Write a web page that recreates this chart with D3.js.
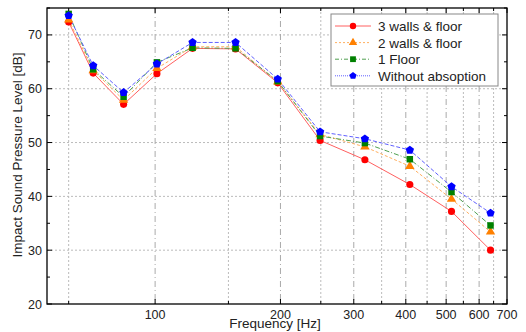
<!DOCTYPE html>
<html>
<head>
<meta charset="utf-8">
<script src="https://cdn.jsdelivr.net/npm/d3@7"></script>
<style>
  body { margin: 0; background: #fff; }
  text { font-family: "Liberation Sans", Arial, sans-serif; }
</style>
</head>
<body>
<div id="graph"></div>
<script>
// frequencies (Hz)
var freq = [62, 71, 84, 101, 123, 156, 197, 249, 319, 409, 515, 639];
var walls3 = [72.4, 62.9, 57.1, 62.8, 67.5, 67.4, 61.1, 50.4, 46.8, 42.2, 37.2, 30.0];
var walls2 = [72.8, 63.4, 57.9, 63.8, 67.8, 67.8, 61.3, 51.5, 49.2, 45.6, 39.5, 33.4];
var floor1 = [73.9, 63.6, 58.5, 64.9, 67.6, 67.5, 61.4, 51.2, 49.9, 46.9, 40.8, 34.6];
var noAbs  = [73.6, 64.3, 59.3, 64.6, 68.6, 68.6, 61.8, 52.0, 50.7, 48.6, 41.8, 36.9];

var seriesNames = ["3 walls & floor", "2 walls & floor", "1 Floor", "Without absoption"];
var xMajor = [100, 200, 300, 400, 500, 600, 700];
var xMinor = [62, 150, 250, 350, 450, 550, 650];
var yMajor = [20, 30, 40, 50, 60, 70];
var yMinor = [25, 35, 45, 55, 65, 75];

var W = 526, H = 332;
var pLeft = 47, pRight = 507, pTop = 8, pBottom = 304;

var svg = d3.select("#graph").append("svg").attr("width", W).attr("height", H);

var x = d3.scaleLog().domain([55, 700]).range([pLeft, pRight]);
var y = d3.scaleLinear().domain([20, 75]).range([pBottom, pTop]);

// grid
var grid = svg.append("g");
grid.selectAll("line.hg").data(yMajor.filter(function(d){ return d > 20; })).enter().append("line")
    .attr("x1", pLeft).attr("x2", pRight)
    .attr("y1", function(d){ return y(d); }).attr("y2", function(d){ return y(d); })
    .style("stroke", "#bbb").style("stroke-width", 1).style("stroke-dasharray", "2,2");
grid.selectAll("line.vmin").data(xMinor).enter().append("line")
    .attr("x1", function(d){ return x(d); }).attr("x2", function(d){ return x(d); })
    .attr("y1", pTop).attr("y2", pBottom)
    .style("stroke", "#bbb").style("stroke-width", 1).style("stroke-dasharray", "2,2");
grid.selectAll("line.vmaj").data(xMajor.filter(function(d){ return d < 700; })).enter().append("line")
    .attr("x1", function(d){ return x(d); }).attr("x2", function(d){ return x(d); })
    .attr("y1", pTop).attr("y2", pBottom)
    .style("stroke", "#aaa").style("stroke-width", 1).style("stroke-dasharray", "6,3,1,3");

// series
var series = [
    {name: seriesNames[0], vals: walls3, color: "#ff0000", line: "#ff6060", dash: null, sym: d3.symbolCircle, size: 40},
    {name: seriesNames[1], vals: walls2, color: "#ff8000", line: "#ffb060", dash: "3,2", sym: d3.symbolTriangle, size: 38},
    {name: seriesNames[2], vals: floor1, color: "#008000", line: "#50a050", dash: "5,2,1,2", sym: d3.symbolSquare, size: 42},
    {name: seriesNames[3], vals: noAbs,  color: "#0000ff", line: "#6060ff", dash: "4,2", sym: null, size: 0}
];

function pentagon(r) {
    var pts = [];
    for (var i = 0; i < 5; i++) {
        var a = -Math.PI / 2 + i * 2 * Math.PI / 5;
        pts.push([r * Math.cos(a), r * Math.sin(a)]);
    }
    return "M" + pts.join("L") + "Z";
}

var line = d3.line().x(function(d, i){ return x(freq[i]); }).y(function(d){ return y(d); });

series.forEach(function(s) {
    svg.append("path").datum(s.vals)
        .attr("d", line)
        .style("fill", "none").style("stroke", s.line).style("stroke-width", 1)
        .style("stroke-dasharray", s.dash);
});
series.forEach(function(s) {
    svg.selectAll(null).data(s.vals).enter().append("path")
        .attr("transform", function(d, i){ return "translate(" + x(freq[i]) + "," + y(d) + ")"; })
        .attr("d", s.sym ? d3.symbol().type(s.sym).size(s.size)() : pentagon(4.4))
        .style("fill", s.color);
});

// axes frame
svg.append("rect").attr("x", pLeft).attr("y", pTop).attr("width", pRight - pLeft).attr("height", pBottom - pTop)
    .style("fill", "none").style("stroke", "#000").style("stroke-width", 1.3);

// ticks (inward on all four sides)
function ticksX(vals, len) {
    svg.selectAll(null).data(vals).enter().append("line")
        .attr("x1", function(d){ return x(d); }).attr("x2", function(d){ return x(d); })
        .attr("y1", pBottom).attr("y2", pBottom - len).style("stroke", "#000");
    svg.selectAll(null).data(vals).enter().append("line")
        .attr("x1", function(d){ return x(d); }).attr("x2", function(d){ return x(d); })
        .attr("y1", pTop).attr("y2", pTop + len).style("stroke", "#000");
}
function ticksY(vals, len) {
    svg.selectAll(null).data(vals).enter().append("line")
        .attr("x1", pLeft).attr("x2", pLeft + len)
        .attr("y1", function(d){ return y(d); }).attr("y2", function(d){ return y(d); }).style("stroke", "#000");
    svg.selectAll(null).data(vals).enter().append("line")
        .attr("x1", pRight).attr("x2", pRight - len)
        .attr("y1", function(d){ return y(d); }).attr("y2", function(d){ return y(d); }).style("stroke", "#000");
}
ticksX(xMajor, 5); ticksX(xMinor, 3);
ticksY(yMajor, 5); ticksY(yMinor, 3);

// tick labels
svg.selectAll(null).data(xMajor).enter().append("text")
    .attr("x", function(d){ return x(d); }).attr("y", 319)
    .attr("text-anchor", "middle").style("font-size", "12.5px").style("fill", "#222")
    .text(function(d){ return d; });
svg.selectAll(null).data(yMajor).enter().append("text")
    .attr("x", 42).attr("y", function(d){ return y(d) + 4.5; })
    .attr("text-anchor", "end").style("font-size", "12.5px").style("fill", "#222")
    .text(function(d){ return d; });

// axis titles
svg.append("text").attr("x", 275).attr("y", 327.5).attr("text-anchor", "middle")
    .style("font-size", "13.5px").style("fill", "#222").text("Frequency [Hz]");
svg.append("text").attr("transform", "translate(22,155) rotate(-90)").attr("text-anchor", "middle")
    .style("font-size", "13.5px").style("fill", "#222").text("Impact Sound Pressure Level [dB]");

// legend
var lg = svg.append("g").attr("transform", "translate(331,14)");
lg.append("rect").attr("width", 167).attr("height", 72)
    .style("fill", "#fff").style("stroke", "#888").style("stroke-width", 1);
var legDash = [null, "2,2", "4,2,1,2", "1,1"];
series.forEach(function(s, i) {
    var cy = 12 + i * 16.6;
    lg.append("line").attr("x1", 4).attr("x2", 40).attr("y1", cy).attr("y2", cy)
        .style("stroke", s.line).style("stroke-width", 1).style("stroke-dasharray", legDash[i]);
    lg.append("path").attr("transform", "translate(22," + cy + ")")
        .attr("d", s.sym ? d3.symbol().type(s.sym).size(s.size * 0.8)() : pentagon(3.8))
        .style("fill", s.color);
    lg.append("text").attr("x", 47).attr("y", cy + 5)
        .style("font-size", "13.5px").style("fill", "#222").text(s.name);
});
</script>
</body>
</html>
